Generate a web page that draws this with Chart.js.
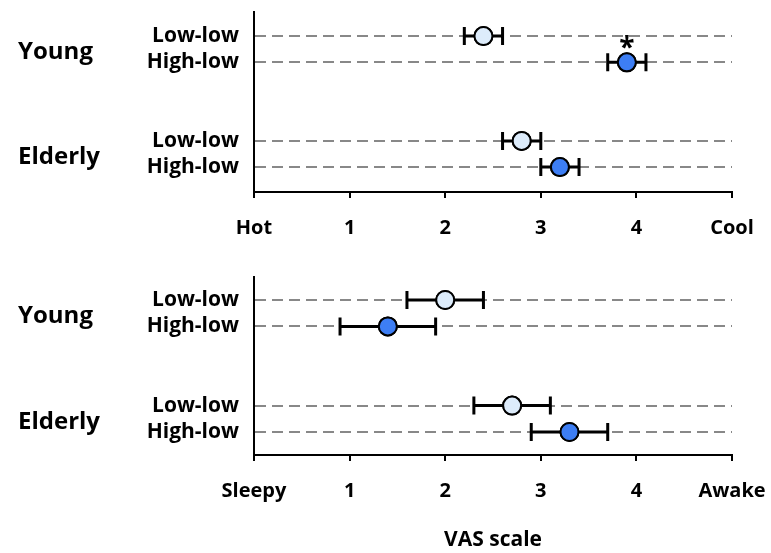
<!DOCTYPE html>
<html>
<head>
<meta charset="utf-8">
<script src="https://cdn.jsdelivr.net/npm/chart.js@4.4.0/dist/chart.umd.min.js"></script>
<style>
	body { margin: 0; background: #fff; }
	#wrap { position: relative; width: 771px; height: 553px; }
	canvas { position: absolute; left: 0; }
</style>
</head>
<body>
<div id="wrap">
	<canvas id="thermalChart" width="771" height="245" style="top:0"></canvas>
	<canvas id="sleepChart" width="771" height="308" style="top:245px"></canvas>
</div>
<script>
// rows from top to bottom: Young Low-low, Young High-low, Elderly Low-low, Elderly High-low
const groups = ['Young', 'Elderly']
const conditions = ['Low-low', 'High-low']
const rowPos = [6, 5, 2, 1]

const thermalMean = [2.4, 3.9, 2.8, 3.2]
const thermalErr = [0.2, 0.2, 0.2, 0.2]
const thermalEnds = ['Hot', 'Cool']
const thermalStars = ['', '*', '', '']

const sleepMean = [2.0, 1.4, 2.7, 3.3]
const sleepErr = [0.4, 0.5, 0.4, 0.4]
const sleepEnds = ['Sleepy', 'Awake']

const xTicks = [0, 1, 2, 3, 4, 5]

const FONT = 'Open Sans'
const lightFill = '#ddecfb'
const darkFill = '#3d7ef4'

// error bars, asterisks and group names
const extrasPlugin = {
	id: 'extras',
	afterDatasetsDraw(chart, args, opts) {
		const { ctx, scales } = chart
		const x = scales.x
		const y = scales.y
		ctx.save()
		ctx.strokeStyle = '#000'
		ctx.lineWidth = 3
		opts.mean.forEach((m, i) => {
			const py = y.getPixelForValue(rowPos[i])
			const x1 = x.getPixelForValue(m - opts.err[i])
			const x2 = x.getPixelForValue(m + opts.err[i])
			ctx.beginPath()
			ctx.moveTo(x1, py)
			ctx.lineTo(x2, py)
			ctx.moveTo(x1, py - 9)
			ctx.lineTo(x1, py + 9)
			ctx.moveTo(x2, py - 9)
			ctx.lineTo(x2, py + 9)
			ctx.stroke()
		})
		ctx.restore()
		// redraw points above the bars
		chart.getDatasetMeta(0).data.forEach(p => p.draw(ctx, chart.chartArea))
		chart.getDatasetMeta(1).data.forEach(p => p.draw(ctx, chart.chartArea))

		ctx.save()
		ctx.fillStyle = '#000'
		if (opts.stars) {
			ctx.font = 'bold 28px ' + FONT
			ctx.textAlign = 'center'
			ctx.textBaseline = 'middle'
			opts.stars.forEach((s, i) => {
				if (!s) return
				ctx.fillText(s, x.getPixelForValue(opts.mean[i]), y.getPixelForValue(rowPos[i]) - 13)
			})
		}
		ctx.font = 'bold 24px ' + FONT
		ctx.textAlign = 'left'
		ctx.textBaseline = 'middle'
		groups.forEach((g, gi) => {
			const mid = (y.getPixelForValue(rowPos[gi * 2]) + y.getPixelForValue(rowPos[gi * 2 + 1])) / 2
			ctx.fillText(g, 18, mid + 3)
		})
		ctx.restore()
	},
}

function makePanel(canvasId, mean, err, ends, stars, opts) {
	const lowIdx = [0, 2]
	const highIdx = [1, 3]
	return new Chart(document.getElementById(canvasId), {
		type: 'scatter',
		data: {
			datasets: [
				{
					label: 'Low-low',
					data: lowIdx.map(i => ({ x: mean[i], y: rowPos[i] })),
					backgroundColor: lightFill,
					borderColor: '#000',
					borderWidth: 2,
					pointRadius: 9,
				},
				{
					label: 'High-low',
					data: highIdx.map(i => ({ x: mean[i], y: rowPos[i] })),
					backgroundColor: darkFill,
					borderColor: '#000',
					borderWidth: 2,
					pointRadius: 9,
				},
			],
		},
		options: {
			responsive: false,
			animation: false,
			layout: { padding: { top: opts.top, right: 39, left: 0, bottom: 0 } },
			plugins: {
				legend: { display: false },
				tooltip: { enabled: false },
				extras: { mean: mean, err: err, stars: stars },
			},
			scales: {
				x: {
					type: 'linear',
					min: 0,
					max: 5,
					afterBuildTicks: s => { s.ticks = xTicks.map(v => ({ value: v })) },
					afterFit: s => {
						s.height = opts.xHeight
						s.paddingLeft = 0
						s.paddingRight = 0
					},
					ticks: {
						color: '#000',
						padding: 18,
						maxRotation: 0,
						font: { family: FONT, size: 20, weight: 'bold' },
						callback: v => (v === 0 ? ends[0] : v === 5 ? ends[1] : String(v)),
					},
					grid: { drawOnChartArea: false, drawTicks: true, tickLength: 6, color: '#000', lineWidth: 2 },
					border: { display: true, color: '#000', width: 2 },
					title: {
						display: !!opts.title,
						text: opts.title || '',
						color: '#000',
						font: { family: FONT, size: 21, weight: 'bold' },
						padding: { top: 0, bottom: 0 },
					},
				},
				y: {
					type: 'linear',
					min: opts.yMin,
					max: opts.yMax,
					afterBuildTicks: s => { s.ticks = rowPos.map(v => ({ value: v })) },
					afterFit: s => {
						s.width = 254
						s.paddingTop = 0
						s.paddingBottom = 0
					},
					ticks: {
						color: '#000',
						padding: 15,
						font: { family: FONT, size: 21, weight: 'bold' },
						callback: v => conditions[rowPos.indexOf(v) % 2],
					},
					grid: { drawTicks: false, color: '#888', lineWidth: 2 },
					border: { display: true, color: '#000', width: 2, dash: [11, 6] },
				},
			},
		},
		plugins: [extrasPlugin],
	})
}

makePanel('thermalChart', thermalMean, thermalErr, thermalEnds, thermalStars, {
	top: 12, xHeight: 53, yMin: 0.05, yMax: 6.92,
})
makePanel('sleepChart', sleepMean, sleepErr, sleepEnds, null, {
	top: 32, xHeight: 98, yMin: 0.13, yMax: 6.87, title: 'VAS scale',
})
</script>
</body>
</html>
